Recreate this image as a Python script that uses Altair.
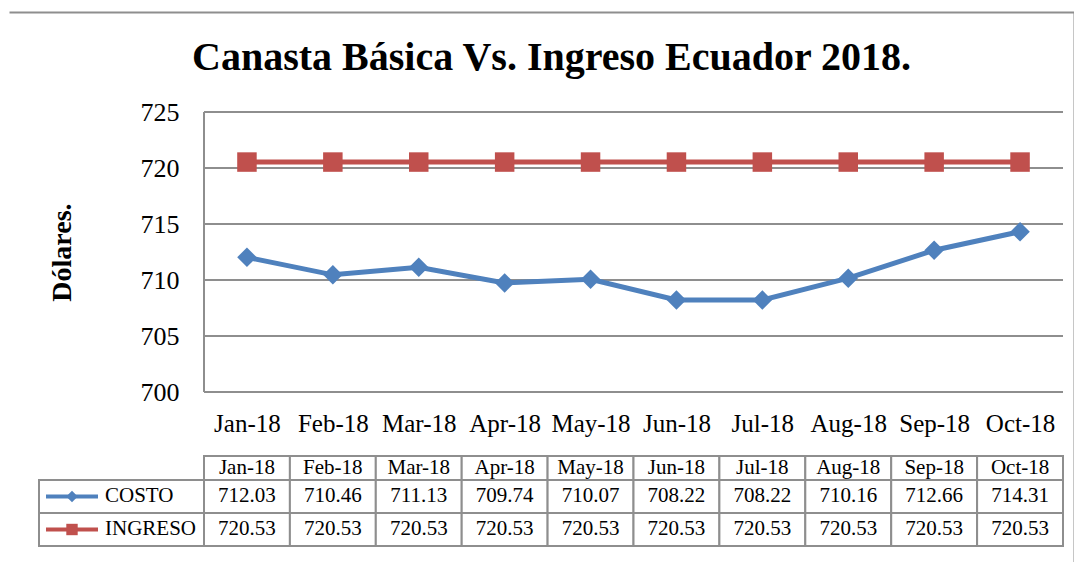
import altair as alt
import pandas as pd

# ---------------- data ----------------
MONTHS = ["Jan-18", "Feb-18", "Mar-18", "Apr-18", "May-18",
          "Jun-18", "Jul-18", "Aug-18", "Sep-18", "Oct-18"]
COSTO = [712.03, 710.46, 711.13, 709.74, 710.07, 708.22, 708.22, 710.16, 712.66, 714.31]
INGRESO = [720.53, 720.53, 720.53, 720.53, 720.53, 720.53, 720.53, 720.53, 720.53, 720.53]
SERIES = ["COSTO", "INGRESO"]
Y_TICKS = [700, 705, 710, 715, 720, 725]

TITLE = "Canasta Básica Vs. Ingreso Ecuador 2018."
Y_TITLE = "Dólares."

# ---------------- style / layout ----------------
COLORS = ["#4F81BD", "#C0504D"]
SHAPES = ["diamond", "square"]
FONT = "Liberation Serif"
GRID = "#8e8e8e"

W, H = 1065, 550                 # view = chart frame
PLOT_L, PLOT_R = 195, 1054       # plot area inside the frame
PLOT_TOP, PLOT_BOT = 100, 380
TABLE_TOP, TABLE_BOT = 444, 534
COL = (PLOT_R - PLOT_L) / len(MONTHS)
XMIN, XMAX = -PLOT_L / COL, (W - PLOT_L) / COL
LABEL_L = -165 / COL             # left edge of the legend column of the table
KEY_X0, KEY_X1, KEY_XM, KEY_XT = -158 / COL, -106 / COL, -132 / COL, -99 / COL
ROW_REL = [0.727, 1.0, 1.0]

# ---------------- frames ----------------
main_rows = []
for s, vals in zip(SERIES, (COSTO, INGRESO)):
    for i, (m, v) in enumerate(zip(MONTHS, vals)):
        main_rows.append({"serie": s, "mes": m, "xc": i + 0.5, "valor": v})
main_df = pd.DataFrame(main_rows)

grid_df = pd.DataFrame({"v": Y_TICKS, "x0": 0, "x1": len(MONTHS)})
border_df = pd.DataFrame({"x0": [0], "v0": [min(Y_TICKS)], "v1": [max(Y_TICKS)]})

edges = [0.0]
for r in ROW_REL:
    edges.append(edges[-1] + r)

cells = []
for i, m in enumerate(MONTHS):
    cells.append({"x0": i, "x1": i + 1, "y0": edges[0], "y1": edges[1], "xm": i + 0.5,
                  "ym": (edges[0] + edges[1]) / 2, "text": m})
for r, (s, vals) in enumerate(zip(SERIES, (COSTO, INGRESO)), start=1):
    cells.append({"x0": LABEL_L, "x1": 0, "y0": edges[r], "y1": edges[r + 1], "xm": None,
                  "ym": (edges[r] + edges[r + 1]) / 2, "text": ""})
    for i, v in enumerate(vals):
        cells.append({"x0": i, "x1": i + 1, "y0": edges[r], "y1": edges[r + 1], "xm": i + 0.5,
                      "ym": (edges[r] + edges[r + 1]) / 2, "text": f"{v:.2f}"})
cells_df = pd.DataFrame(cells)
text_df = cells_df[cells_df["text"] != ""]

key_df = pd.DataFrame({
    "serie": SERIES,
    "ym": [(edges[1] + edges[2]) / 2, (edges[2] + edges[3]) / 2],
    "k0": KEY_X0, "k1": KEY_X1, "km": KEY_XM, "kt": KEY_XT,
})

# ---------------- scales / axes ----------------
xs = alt.Scale(domain=[XMIN, XMAX], nice=False, zero=False)
label_expr = "[" + ",".join(f"'{m}'" for m in MONTHS) + "][floor(datum.value)]"
xaxis = alt.Axis(title=None, values=[i + 0.5 for i in range(len(MONTHS))], labelExpr=label_expr,
                 domain=False, ticks=False, tickSize=0, grid=False, labelFont=FONT, labelFontSize=25,
                 labelColor="black", labelPadding=19, offset=-(H - PLOT_BOT),
                 labelOverlap=False, labelFlush=False)
ys = alt.Scale(domain=[min(Y_TICKS), max(Y_TICKS)], range=[PLOT_BOT, PLOT_TOP], nice=False, zero=False)
yaxis = alt.Axis(title=Y_TITLE, values=Y_TICKS, domain=False, ticks=False, tickSize=0, grid=False,
                 offset=-PLOT_L, labelPadding=25, labelFont=FONT, labelFontSize=26, labelColor="black",
                 titleFont=FONT, titleFontSize=28, titleFontWeight="bold", titleColor="black",
                 titlePadding=64)

# table layer: its y scale spans the whole frame height, so its axis line is the frame's left edge
ROW_PX = (TABLE_BOT - TABLE_TOP) / edges[-1]
ts = alt.Scale(domain=[-TABLE_TOP / ROW_PX, (H - TABLE_TOP) / ROW_PX], range=[0, H], nice=False, zero=False)
frame_y = alt.Axis(title=None, labels=False, ticks=False, grid=False, domain=True,
                   domainColor=GRID, domainWidth=2, offset=0)
frame_x = alt.Axis(title=None, orient="top", labels=False, ticks=False, grid=False, domain=True,
                   domainColor=GRID, domainWidth=2, offset=0)
color = alt.Color("serie:N", scale=alt.Scale(domain=SERIES, range=COLORS), legend=None)
shape = alt.Shape("serie:N", scale=alt.Scale(domain=SERIES, range=SHAPES), legend=None)

# ---------------- main plot ----------------
grid = alt.Chart(grid_df).mark_rule(color=GRID, strokeWidth=2).encode(
    x=alt.X("x0:Q", scale=xs, axis=xaxis), x2="x1:Q",
    y=alt.Y("v:Q", scale=ys, axis=yaxis))
border = alt.Chart(border_df).mark_rule(color=GRID, strokeWidth=2).encode(
    x=alt.X("x0:Q", scale=xs, axis=xaxis),
    y=alt.Y("v0:Q", scale=ys, axis=yaxis), y2="v1:Q")
lines = alt.Chart(main_df).mark_line(strokeWidth=5).encode(
    x=alt.X("xc:Q", scale=xs, axis=xaxis),
    y=alt.Y("valor:Q", scale=ys, axis=yaxis),
    color=color, detail="serie:N")
points = alt.Chart(main_df).mark_point(filled=True, size=380, opacity=1).encode(
    x=alt.X("xc:Q", scale=xs, axis=xaxis),
    y=alt.Y("valor:Q", scale=ys, axis=yaxis),
    color=color, shape=shape)
main = alt.layer(grid, border, lines, points)

# ---------------- data table ----------------
rects = alt.Chart(cells_df).mark_rect(fill="white", stroke=GRID, strokeWidth=2).encode(
    x=alt.X("x0:Q", scale=xs, axis=frame_x), x2="x1:Q",
    y=alt.Y("y0:Q", scale=ts, axis=frame_y), y2="y1:Q")
texts = alt.Chart(text_df).mark_text(font=FONT, fontSize=21, color="black", baseline="middle").encode(
    x=alt.X("xm:Q", scale=xs, axis=frame_x),
    y=alt.Y("ym:Q", scale=ts, axis=frame_y), text="text:N")
key_line = alt.Chart(key_df).mark_rule(strokeWidth=4).encode(
    x=alt.X("k0:Q", scale=xs, axis=frame_x), x2="k1:Q",
    y=alt.Y("ym:Q", scale=ts, axis=frame_y), color=color)
key_pt = alt.Chart(key_df).mark_point(filled=True, size=130, opacity=1).encode(
    x=alt.X("km:Q", scale=xs, axis=frame_x),
    y=alt.Y("ym:Q", scale=ts, axis=frame_y), color=color, shape=shape)
key_txt = alt.Chart(key_df).mark_text(font=FONT, fontSize=21, color="black", align="left",
                                       baseline="middle").encode(
    x=alt.X("kt:Q", scale=xs, axis=frame_x),
    y=alt.Y("ym:Q", scale=ts, axis=frame_y), text="serie:N")
table = alt.layer(rects, texts, key_line, key_pt, key_txt)

chart = alt.layer(main, table).resolve_scale(x="independent", y="independent").properties(
    width=W, height=H,
    padding={"left": 1, "top": 4, "right": 0, "bottom": 0},
    title=alt.TitleParams(TITLE, font=FONT, fontSize=40, fontWeight="bold", color="black",
                          anchor="middle", frame="group", baseline="alphabetic", offset=-98, dx=10),
).configure_view(stroke=None)

chart.save("out.html", embed_options={"renderer": "svg", "actions": False})
